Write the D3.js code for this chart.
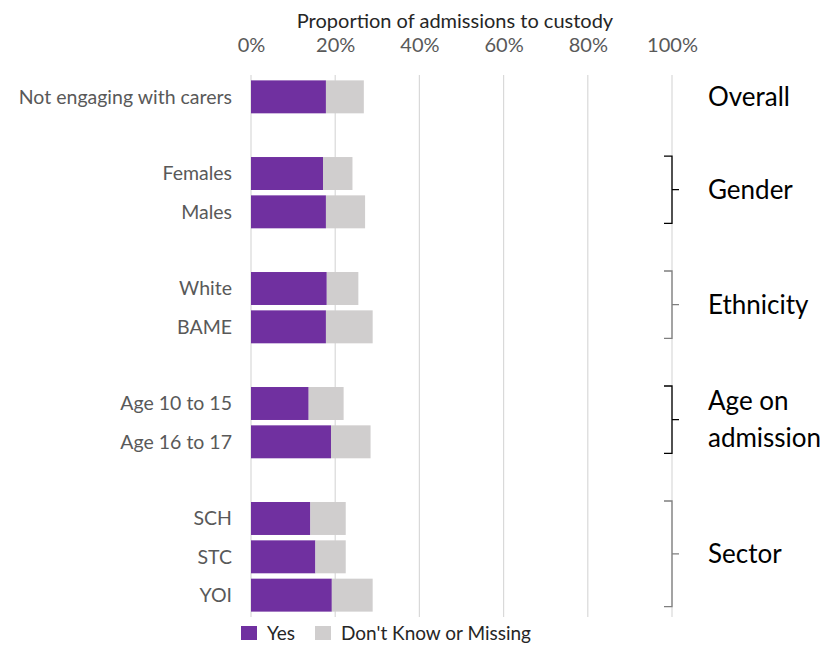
<!DOCTYPE html>
<html>
<head>
<meta charset="utf-8">
<script src="https://cdn.jsdelivr.net/npm/d3@7"></script>
<style>
  body { margin: 0; background: #fff; }
  svg { font-family: Lato, "Open Sans", sans-serif; }
</style>
</head>
<body>
<svg width="829" height="646"></svg>
<script>
// data
const categories = ["Not engaging with carers", "Females", "Males", "White", "BAME",
  "Age 10 to 15", "Age 16 to 17", "SCH", "STC", "YOI"];
const yesValues = [17.8, 17.1, 17.8, 18.0, 17.8, 13.7, 19.0, 14.1, 15.3, 19.2];
const dontKnowValues = [9.0, 7.0, 9.3, 7.5, 11.1, 8.3, 9.4, 8.4, 7.2, 9.7];
const tickValues = [0, 20, 40, 60, 80, 100];
const seriesNames = ["Yes", "Don't Know or Missing"];
const groupNames = [["Overall"], ["Gender"], ["Ethnicity"], ["Age on", "admission"], ["Sector"]];
const groupRows = [
  ["Not engaging with carers"],
  ["Females", "Males"],
  ["White", "BAME"],
  ["Age 10 to 15", "Age 16 to 17"],
  ["SCH", "STC", "YOI"]
];

const colors = { yes: "#7030a0", dk: "#d0cece" };
const svg = d3.select("svg");

// slots, with an empty one between groups
const slots = [];
groupRows.forEach((rows, i) => {
  if (i > 0) slots.push("gap" + i);
  rows.forEach(r => slots.push(r));
});

const x = d3.scaleLinear().domain([0, 100]).range([251, 672]);
const y = d3.scaleBand().domain(slots).range([75, 617]).padding(0.14);

// gridlines
svg.append("g")
  .selectAll("line")
  .data(tickValues)
  .join("line")
  .attr("x1", d => x(d)).attr("x2", d => x(d))
  .attr("y1", 75).attr("y2", 617)
  .attr("stroke", "#d9d9d9")
  .attr("stroke-width", 1.2);

// top axis
const topAxis = d3.axisTop(x).tickValues(tickValues).tickSize(0).tickFormat(d => d + "%");
svg.append("g")
  .attr("class", "top axis")
  .attr("transform", "translate(0,55)")
  .call(topAxis)
  .call(g => g.select(".domain").remove())
  .selectAll("text")
  .attr("dy", 0)
  .attr("fill", "#595959")
  .attr("font-size", "20px")
  .attr("font-family", "Lato, sans-serif");

// x axis-label
svg.append("text")
  .attr("x", 455)
  .attr("y", 28)
  .attr("text-anchor", "middle")
  .attr("font-size", "20px")
  .attr("fill", "#262626")
  .text("Proportion of admissions to custody");

// bars
const rows = categories.map((c, i) => ({ c, yes: yesValues[i], dk: dontKnowValues[i] }));
const bars = svg.append("g");
bars.selectAll("rect.yes")
  .data(rows)
  .join("rect")
  .attr("class", "yes")
  .attr("x", x(0))
  .attr("y", d => y(d.c))
  .attr("width", d => x(d.yes) - x(0))
  .attr("height", y.bandwidth())
  .attr("fill", colors.yes);
bars.selectAll("rect.dk")
  .data(rows)
  .join("rect")
  .attr("class", "dk")
  .attr("x", d => x(d.yes))
  .attr("y", d => y(d.c))
  .attr("width", d => x(d.yes + d.dk) - x(d.yes))
  .attr("height", y.bandwidth())
  .attr("fill", colors.dk);

// category labels
svg.append("g")
  .selectAll("text")
  .data(categories)
  .join("text")
  .attr("x", 232)
  .attr("y", d => y(d) + y.bandwidth() / 2)
  .attr("dy", "0.35em")
  .attr("text-anchor", "end")
  .attr("font-size", "19.5px")
  .attr("fill", "#595959")
  .text(d => d);

// group brackets and names
const bx = x(100);
groupRows.forEach((rs, i) => {
  let top = y(rs[0]) - 1;
  let bottom = y(rs[rs.length - 1]) + y.bandwidth() - 5;
  let mid = (top + bottom) / 2;
  if (rs.length > 1) {
    const stroke = (i % 2 === 0) ? "#7f7f7f" : "#000";
    svg.append("path")
      .attr("d", `M${bx - 8},${top}H${bx}V${bottom}H${bx - 8}M${bx},${mid}H${bx + 7}`)
      .attr("fill", "none")
      .attr("stroke", stroke)
      .attr("stroke-width", 1.3);
  } else {
    mid = y(rs[0]) + y.bandwidth() / 2;
  }
  const lines = groupNames[i];
  const t = svg.append("text")
    .attr("x", bx + 36)
    .attr("y", mid)
    .attr("font-size", "26px")
    .attr("fill", "#000");
  lines.forEach((l, j) => {
    t.append("tspan")
      .attr("x", bx + 36)
      .attr("dy", j === 0 ? (0.35 - (lines.length - 1) * 0.72) + "em" : "1.44em")
      .text(l);
  });
});

// legend
const legend = svg.append("g").attr("transform", "translate(241,626)");
const legendX = [0, 74];
seriesNames.forEach((s, i) => {
  legend.append("rect")
    .attr("x", legendX[i]).attr("y", 0)
    .attr("width", 16).attr("height", 14)
    .attr("fill", i === 0 ? colors.yes : colors.dk);
  legend.append("text")
    .attr("x", legendX[i] + 26).attr("y", 7)
    .attr("dy", "0.35em")
    .attr("font-size", "19px")
    .attr("fill", "#262626")
    .text(s);
});
</script>
</body>
</html>
